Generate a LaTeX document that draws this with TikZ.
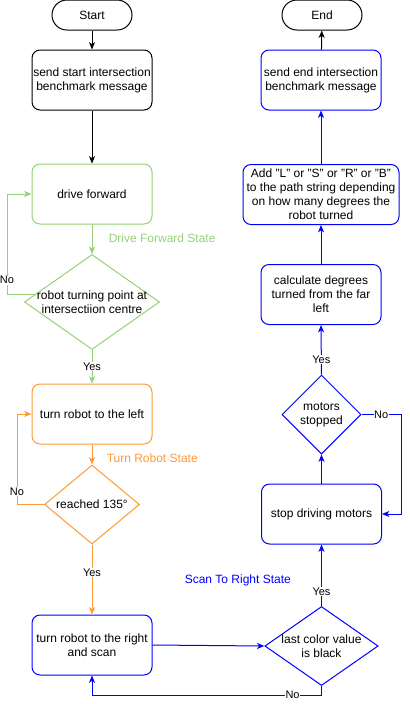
\documentclass[tikz,border=0pt]{standalone}
\usepackage{fontspec}
\setmainfont{Liberation Sans}
\usetikzlibrary{shapes.geometric,arrows.meta,calc}
\definecolor{cgreen}{HTML}{97D077}
\definecolor{corange}{HTML}{FF9933}
\definecolor{cblue}{HTML}{0000FF}
\tikzset{
  px/.style={x=0.75pt,y=-0.75pt},
  box/.style={draw,rectangle,rounded corners=6pt,line width=0.75pt,minimum width=90pt,minimum height=45pt,inner sep=0pt,align=center,font=\fontsize{9}{10.5}\selectfont},
  term/.style={draw,rectangle,rounded corners=11.2pt,line width=0.75pt,minimum width=60pt,minimum height=22.5pt,inner sep=0pt,align=center,font=\fontsize{9}{10.5}\selectfont},
  dia/.style={draw,diamond,line width=0.75pt,inner sep=0pt},
  dtext/.style={align=center,font=\fontsize{9}{10.5}\selectfont,inner sep=0pt},
  arr/.style={line width=0.75pt,-{Stealth[length=5.5pt,width=4.5pt,inset=1.5pt]}},
  lbl/.style={fill=white,inner sep=0.5pt,font=\fontsize{8.25}{9}\selectfont},
  state/.style={anchor=west,inner sep=0pt,font=\fontsize{9}{10.5}\selectfont}
}
\begin{document}
\begin{tikzpicture}[px]
\useasboundingbox (0,0) rectangle (410,704);
% left column
\node[term] (start) at (92,15) {Start};
\node[box] (b1) at (92,80) {send start intersection\\benchmark message};
\node[box,draw=cgreen] (b2) at (92,194) {drive forward};
\node[dia,draw=cgreen,minimum width=101.25pt,minimum height=71.25pt] (d1) at (92,302) {};
\node[dtext] (t1) at (d1.center) {robot turning point at\\intersectiion centre};
\node[box,draw=corange] (b3) at (92,414) {turn robot to the left};
\node[dia,draw=corange,minimum width=71.25pt,minimum height=59.25pt] (d2) at (92,504.5) {};
\node[dtext] (t2) at (d2.center) {reached 135°};
\node[box,draw=cblue] (b4) at (92,645) {turn robot to the right\\and scan};
% right column
\node[dia,draw=cblue,minimum width=85pt,minimum height=59.25pt] (d3) at (321.5,646) {};
\node[dtext] (t3) at (d3.center) {last color value\\is black};
\node[box,draw=cblue] (b5) at (321.5,514) {stop driving motors};
\node[dia,draw=cblue,minimum width=59.25pt,minimum height=59.25pt] (d4) at (321.5,414.5) {};
\node[dtext] (t4) at (d4.center) {motors\\stopped};
\node[box,draw=cblue] (b6) at (321,294.5) {calculate degrees\\turned from the far\\left};
\node[box,draw=cblue,minimum width=117pt] (b7) at (321,194.5) {Add "L" or "S" or "R" or "B"\\to the path string depending\\on how many degrees the\\robot turned};
\node[box,draw=cblue] (b8) at (321,80) {send end intersection\\benchmark message};
\node[term] (end) at (322,15) {End};
% state labels
\node[state,text=cgreen] (s1) at (108.5,238.5) {Drive Forward State};
\node[state,text=corange] (s2) at (106.5,458.5) {Turn Robot State};
\node[state,text=cblue] (s3) at (184.5,580.5) {Scan To Right State};
% helper coordinates
\coordinate (lx1) at (7,0);
\coordinate (lx2) at (17,0);
\coordinate (rx) at (401,0);
\coordinate (ny) at (0,695);
% connectors
\draw[arr] (start) -- (b1);
\draw[arr] (b1) -- (b2);
\draw[arr,draw=cgreen] (b2) -- (d1);
\draw[arr,draw=cgreen] (d1.172) -- (d1.172 -| lx1) |- (b2.west) node[lbl,pos=0.07] {No};
\draw[arr,draw=cgreen] (d1.south) -- (b3.north) node[lbl,pos=0.5] {Yes};
\draw[arr,draw=corange] (b3) -- (d2);
\draw[arr,draw=corange] (d2.west) -- (d2.west -| lx2) |- (b3.west) node[lbl,pos=0.072] {No};
\draw[arr,draw=corange] (d2.south) -- (b4.north) node[lbl,pos=0.4] {Yes};
\draw[arr,draw=cblue] (b4.east) -- (d3.west);
\draw[arr,draw=cblue] (d3.south) -- (d3.south |- ny) -| (b4.south) node[lbl,pos=0.063] {No};
\draw[arr,draw=cblue] (d3.north) -- (b5.south) node[lbl,pos=0.23] {Yes};
\draw[arr,draw=cblue] (b5.north) -- (d4.south);
\draw[arr,draw=cblue] (d4.east) -- (d4.east -| rx) node[lbl,pos=0.5] {No} |- (b5.east);
\draw[arr,draw=cblue] (d4.north) -- (b6.south) node[lbl,pos=0.3] {Yes};
\draw[arr,draw=cblue] (b6) -- (b7);
\draw[arr,draw=cblue] (b7) -- (b8);
\draw[arr] (b8) -- (end);
\end{tikzpicture}
\end{document}
